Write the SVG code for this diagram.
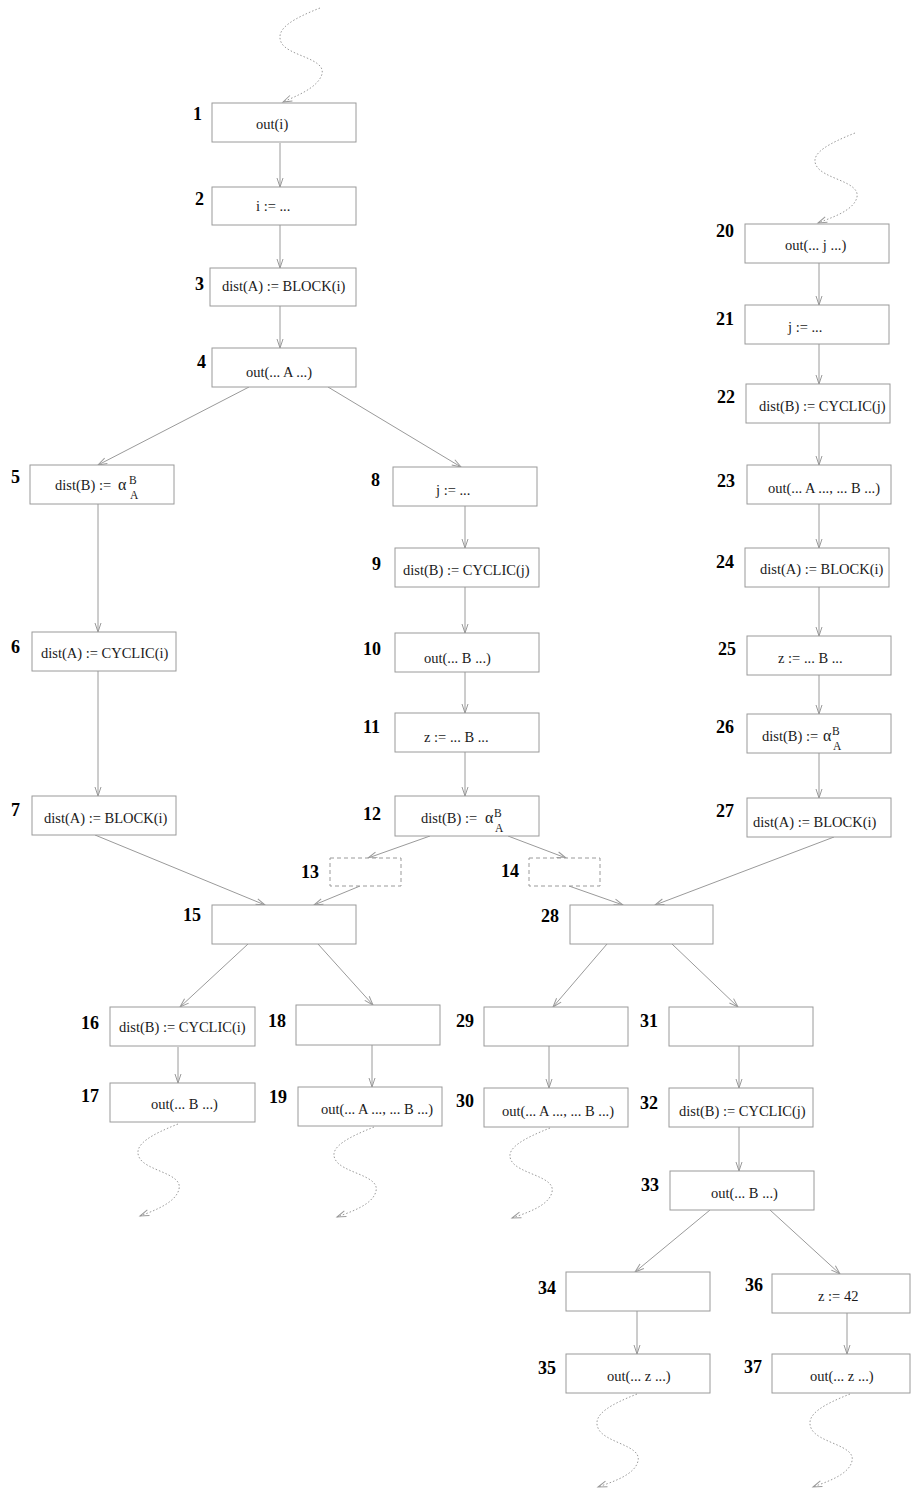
<svg xmlns="http://www.w3.org/2000/svg" width="911" height="1489" viewBox="0 0 911 1489">
<style>
.box{fill:#fff;stroke:#9a9a9a;stroke-width:1}
.dbox{fill:#fff;stroke:#9a9a9a;stroke-width:1;stroke-dasharray:4,3}
.t{font-family:"Liberation Serif","Times New Roman",serif;font-size:14.5px;fill:#1a1a1a}
.a{font-family:"Liberation Serif","Times New Roman",serif;font-size:16px;fill:#1a1a1a}
.s{font-family:"Liberation Serif","Times New Roman",serif;font-size:11.5px;fill:#1a1a1a}
.n{font-family:"Liberation Serif","Times New Roman",serif;font-size:18px;font-weight:bold;fill:#000}
.e{fill:none;stroke:#9a9a9a;stroke-width:1;marker-end:url(#ah)}
.w{fill:none;stroke:#9a9a9a;stroke-width:1;stroke-dasharray:1.5,2;marker-end:url(#ah)}
</style>
<defs>
<marker id="ah" markerUnits="userSpaceOnUse" markerWidth="12" markerHeight="10" refX="10" refY="4" orient="auto" viewBox="0 0 12 8">
<path d="M1,1 L10,4 L1,7" fill="none" stroke="#9a9a9a" stroke-width="1"/>
</marker>
</defs>
<rect width="911" height="1489" fill="#fff"/>
<g id="connectors">
<path class="w" d="M320,8 C295,18 275,28 281,42 C287,56 326,58 322,74 C318,88 296,96 283,102"/>
<path class="w" d="M855,133 C830,143 810,153 816,165 C822,179 860,181 857,197 C854,211 830,218 818,223"/>
<path class="w" d="M178,1124 C153,1134 133,1144 139,1157 C145,1171 183,1173 179,1189 C176,1203 153,1211 140,1216"/>
<path class="w" d="M374,1127 C349,1137 329,1147 335,1159 C341,1173 380,1175 376,1191 C373,1205 350,1212 337,1217"/>
<path class="w" d="M550,1128 C525,1138 505,1148 511,1160 C517,1174 556,1176 552,1192 C549,1206 526,1213 512,1218"/>
<path class="w" d="M637,1394 C612,1404 592,1414 598,1428 C604,1443 642,1445 638,1461 C635,1475 612,1482 598,1487"/>
<path class="w" d="M850,1394 C825,1404 805,1414 811,1428 C817,1443 856,1445 852,1461 C849,1475 826,1482 813,1487"/>
<line class="e" x1="280" y1="143" x2="280" y2="187"/>
<line class="e" x1="280" y1="225" x2="280" y2="268"/>
<line class="e" x1="280" y1="306" x2="280" y2="348"/>
<line class="e" x1="249" y1="387" x2="98" y2="465"/>
<line class="e" x1="328" y1="387" x2="461" y2="467"/>
<line class="e" x1="98" y1="504" x2="98" y2="632"/>
<line class="e" x1="98" y1="671" x2="98" y2="796"/>
<line class="e" x1="465" y1="506" x2="465" y2="548"/>
<line class="e" x1="465" y1="587" x2="465" y2="633"/>
<line class="e" x1="465" y1="672" x2="465" y2="713"/>
<line class="e" x1="465" y1="752" x2="465" y2="796"/>
<line class="e" x1="430" y1="836" x2="368" y2="858"/>
<line class="e" x1="508" y1="836" x2="566" y2="858"/>
<line class="e" x1="360" y1="886" x2="314" y2="905"/>
<line class="e" x1="569" y1="886" x2="623" y2="905"/>
<line class="e" x1="95" y1="835" x2="265" y2="905"/>
<line class="e" x1="834" y1="837" x2="655" y2="905"/>
<line class="e" x1="248" y1="944" x2="180" y2="1007"/>
<line class="e" x1="318" y1="944" x2="373" y2="1005"/>
<line class="e" x1="178" y1="1047" x2="178" y2="1083"/>
<line class="e" x1="372" y1="1045" x2="372" y2="1087"/>
<line class="e" x1="607" y1="944" x2="553" y2="1007"/>
<line class="e" x1="672" y1="944" x2="738" y2="1007"/>
<line class="e" x1="549" y1="1046" x2="549" y2="1088"/>
<line class="e" x1="739" y1="1046" x2="739" y2="1088"/>
<line class="e" x1="739" y1="1127" x2="739" y2="1171"/>
<line class="e" x1="710" y1="1210" x2="635" y2="1272"/>
<line class="e" x1="770" y1="1210" x2="840" y2="1274"/>
<line class="e" x1="637" y1="1311" x2="637" y2="1354"/>
<line class="e" x1="847" y1="1313" x2="847" y2="1354"/>
<line class="e" x1="819" y1="263" x2="819" y2="305"/>
<line class="e" x1="819" y1="344" x2="819" y2="384"/>
<line class="e" x1="819" y1="423" x2="819" y2="465"/>
<line class="e" x1="819" y1="504" x2="819" y2="548"/>
<line class="e" x1="819" y1="587" x2="819" y2="636"/>
<line class="e" x1="819" y1="675" x2="819" y2="714"/>
<line class="e" x1="819" y1="753" x2="819" y2="798"/>
</g>
<g id="n1"><rect class="box" x="212" y="103" width="144" height="39"/><text class="n" x="193" y="120">1</text><text class="t" x="256" y="129">out(i)</text></g>
<g id="n2"><rect class="box" x="212" y="187" width="144" height="38"/><text class="n" x="195" y="205">2</text><text class="t" x="256" y="211">i := ...</text></g>
<g id="n3"><rect class="box" x="210" y="268" width="146" height="38"/><text class="n" x="195" y="290">3</text><text class="t" x="222" y="291">dist(A) := BLOCK(i)</text></g>
<g id="n4"><rect class="box" x="212" y="348" width="144" height="39"/><text class="n" x="197" y="368">4</text><text class="t" x="246" y="377">out(... A ...)</text></g>
<g id="n5"><rect class="box" x="30" y="465" width="144" height="39"/><text class="n" x="11" y="483">5</text><text class="t" x="55" y="490">dist(B) :=</text><text class="a" x="118" y="490">α</text><text class="s" x="129" y="484">B</text><text class="s" x="130" y="499">A</text></g>
<g id="n6"><rect class="box" x="32" y="632" width="144" height="39"/><text class="n" x="11" y="653">6</text><text class="t" x="41" y="658">dist(A) := CYCLIC(i)</text></g>
<g id="n7"><rect class="box" x="32" y="796" width="144" height="39"/><text class="n" x="11" y="816">7</text><text class="t" x="44" y="823">dist(A) := BLOCK(i)</text></g>
<g id="n8"><rect class="box" x="393" y="467" width="144" height="39"/><text class="n" x="371" y="486">8</text><text class="t" x="436" y="495">j := ...</text></g>
<g id="n9"><rect class="box" x="395" y="548" width="144" height="39"/><text class="n" x="372" y="570">9</text><text class="t" x="403" y="575">dist(B) := CYCLIC(j)</text></g>
<g id="n10"><rect class="box" x="395" y="633" width="144" height="39"/><text class="n" x="363" y="655">10</text><text class="t" x="424" y="663">out(... B ...)</text></g>
<g id="n11"><rect class="box" x="395" y="713" width="144" height="39"/><text class="n" x="363" y="733">11</text><text class="t" x="424" y="742">z := ... B ...</text></g>
<g id="n12"><rect class="box" x="395" y="796" width="144" height="40"/><text class="n" x="363" y="820">12</text><text class="t" x="421" y="823">dist(B) :=</text><text class="a" x="485" y="823">α</text><text class="s" x="494" y="817">B</text><text class="s" x="495" y="832">A</text></g>
<g id="n13"><rect class="dbox" x="330" y="858" width="71" height="28"/><text class="n" x="301" y="878">13</text></g>
<g id="n14"><rect class="dbox" x="529" y="858" width="71" height="28"/><text class="n" x="501" y="877">14</text></g>
<g id="n15"><rect class="box" x="212" y="905" width="144" height="39"/><text class="n" x="183" y="921">15</text></g>
<g id="n16"><rect class="box" x="110" y="1007" width="145" height="39"/><text class="n" x="81" y="1029">16</text><text class="t" x="119" y="1032">dist(B) := CYCLIC(i)</text></g>
<g id="n17"><rect class="box" x="110" y="1083" width="145" height="39"/><text class="n" x="81" y="1102">17</text><text class="t" x="151" y="1109">out(... B ...)</text></g>
<g id="n18"><rect class="box" x="296" y="1005" width="144" height="40"/><text class="n" x="268" y="1027">18</text></g>
<g id="n19"><rect class="box" x="298" y="1087" width="144" height="39"/><text class="n" x="269" y="1103">19</text><text class="t" x="321" y="1114">out(... A ..., ... B ...)</text></g>
<g id="n20"><rect class="box" x="745" y="224" width="144" height="39"/><text class="n" x="716" y="237">20</text><text class="t" x="785" y="250">out(... j ...)</text></g>
<g id="n21"><rect class="box" x="745" y="305" width="144" height="39"/><text class="n" x="716" y="325">21</text><text class="t" x="788" y="332">j := ...</text></g>
<g id="n22"><rect class="box" x="746" y="384" width="144" height="39"/><text class="n" x="717" y="403">22</text><text class="t" x="759" y="411">dist(B) := CYCLIC(j)</text></g>
<g id="n23"><rect class="box" x="747" y="465" width="144" height="39"/><text class="n" x="717" y="487">23</text><text class="t" x="768" y="493">out(... A ..., ... B ...)</text></g>
<g id="n24"><rect class="box" x="745" y="548" width="144" height="39"/><text class="n" x="716" y="568">24</text><text class="t" x="760" y="574">dist(A) := BLOCK(i)</text></g>
<g id="n25"><rect class="box" x="747" y="636" width="144" height="39"/><text class="n" x="718" y="655">25</text><text class="t" x="778" y="663">z := ... B ...</text></g>
<g id="n26"><rect class="box" x="747" y="714" width="144" height="39"/><text class="n" x="716" y="733">26</text><text class="t" x="762" y="741">dist(B) :=</text><text class="a" x="823" y="741">α</text><text class="s" x="832" y="735">B</text><text class="s" x="833" y="750">A</text></g>
<g id="n27"><rect class="box" x="747" y="798" width="144" height="39"/><text class="n" x="716" y="817">27</text><text class="t" x="753" y="827">dist(A) := BLOCK(i)</text></g>
<g id="n28"><rect class="box" x="570" y="905" width="143" height="39"/><text class="n" x="541" y="922">28</text></g>
<g id="n29"><rect class="box" x="484" y="1007" width="144" height="39"/><text class="n" x="456" y="1027">29</text></g>
<g id="n30"><rect class="box" x="484" y="1088" width="144" height="39"/><text class="n" x="456" y="1107">30</text><text class="t" x="502" y="1116">out(... A ..., ... B ...)</text></g>
<g id="n31"><rect class="box" x="669" y="1007" width="144" height="39"/><text class="n" x="640" y="1027">31</text></g>
<g id="n32"><rect class="box" x="669" y="1088" width="144" height="39"/><text class="n" x="640" y="1109">32</text><text class="t" x="679" y="1116">dist(B) := CYCLIC(j)</text></g>
<g id="n33"><rect class="box" x="670" y="1171" width="144" height="39"/><text class="n" x="641" y="1191">33</text><text class="t" x="711" y="1198">out(... B ...)</text></g>
<g id="n34"><rect class="box" x="566" y="1272" width="144" height="39"/><text class="n" x="538" y="1294">34</text></g>
<g id="n35"><rect class="box" x="566" y="1354" width="144" height="39"/><text class="n" x="538" y="1374">35</text><text class="t" x="607" y="1381">out(... z ...)</text></g>
<g id="n36"><rect class="box" x="772" y="1274" width="138" height="39"/><text class="n" x="745" y="1291">36</text><text class="t" x="818" y="1301">z := 42</text></g>
<g id="n37"><rect class="box" x="772" y="1354" width="138" height="39"/><text class="n" x="744" y="1373">37</text><text class="t" x="810" y="1381">out(... z ...)</text></g>
</svg>
